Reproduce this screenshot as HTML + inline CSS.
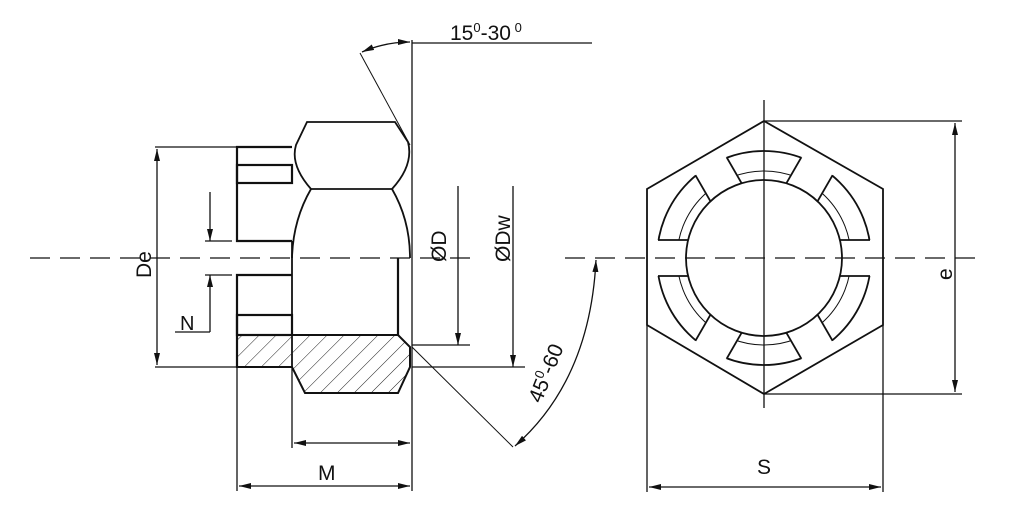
<!DOCTYPE html>
<html><head><meta charset="utf-8"><style>
html,body{margin:0;padding:0;background:#fff;}
svg{display:block;}
text{font-family:"Liberation Sans",sans-serif;fill:#111;}
</style></head><body>
<svg width="1024" height="506" viewBox="0 0 1024 506" xmlns="http://www.w3.org/2000/svg">
<defs>
<marker id="a" viewBox="0 0 12 6" refX="12" refY="3" markerWidth="12" markerHeight="6" orient="auto-start-reverse" markerUnits="userSpaceOnUse"><path d="M0,0 L12,3 L0,6 Z" fill="#111"/></marker>
<pattern id="h" width="12" height="12" patternUnits="userSpaceOnUse" patternTransform="rotate(45)"><line x1="0" y1="0" x2="0" y2="12" stroke="#222" stroke-width="1"/></pattern>
</defs>
<g stroke="#111" fill="none" stroke-width="1.3">
<line x1="30" y1="258" x2="470" y2="258" stroke-dasharray="20,10"/>
<line x1="412" y1="40" x2="412" y2="491"/>
<line x1="412" y1="43" x2="592" y2="43"/>
<line x1="360" y1="53" x2="410" y2="145" stroke-width="1"/>
<path d="M362,52 Q385,42 410,42" marker-start="url(#a)" marker-end="url(#a)"/>
<path d="M307,122 L395,122 L408,142 Q414,165 392,189 L311,189 Q290,165 296,145 Z" stroke-width="1.8"/>
<path d="M311,189 Q293,220 292,258" stroke-width="1.8"/>
<path d="M392,189 Q410,220 410,258" stroke-width="1.8"/>
<path d="M292,147 L237,147 L237,241 L292,241" stroke-width="2.2"/>
<rect x="237" y="165" width="55" height="18" stroke-width="2.2"/>
<line x1="292" y1="241" x2="292" y2="367" stroke-width="1.8"/>
<path d="M292,275 L237,275 L237,367" stroke-width="2.2"/>
<rect x="237" y="315" width="55" height="20" stroke-width="2.2"/>
<line x1="398" y1="258" x2="398" y2="335" stroke-width="2.2"/>
<path d="M237,335 L398,335 L410,347 L410,367 L398,393 L305,393 L292,367 L237,367 Z" fill="url(#h)" stroke-width="2"/>
<line x1="155" y1="147" x2="237" y2="147"/>
<line x1="155" y1="367" x2="237" y2="367"/>
<line x1="157" y1="149" x2="157" y2="365" marker-start="url(#a)" marker-end="url(#a)"/>
<line x1="205" y1="241" x2="232" y2="241"/>
<line x1="205" y1="275" x2="232" y2="275"/>
<line x1="210" y1="192" x2="210" y2="241" marker-end="url(#a)"/>
<line x1="210" y1="332" x2="210" y2="275" marker-end="url(#a)"/>
<line x1="175" y1="332" x2="210" y2="332"/>
<line x1="412" y1="345" x2="470" y2="345"/>
<line x1="458" y1="186" x2="458" y2="345" marker-end="url(#a)"/>
<line x1="412" y1="367" x2="525" y2="367"/>
<line x1="513" y1="186" x2="513" y2="367" marker-end="url(#a)"/>
<line x1="412" y1="347" x2="513" y2="447" stroke-width="1"/>
<path d="M515,446 Q590,380 596,260" marker-start="url(#a)" marker-end="url(#a)"/>
<line x1="292" y1="367" x2="292" y2="448"/>
<line x1="294" y1="443" x2="410" y2="443" marker-start="url(#a)" marker-end="url(#a)"/>
<line x1="237" y1="367" x2="237" y2="491"/>
<line x1="239" y1="486" x2="410" y2="486" marker-start="url(#a)" marker-end="url(#a)"/>
<polygon points="764,121 883,189 883,325 764,394 647,325 647,189" stroke-width="1.8"/>
<circle cx="764" cy="258" r="107" stroke-width="1.8"/>
<circle cx="764" cy="258" r="87" stroke-width="1"/>
<g stroke-width="1.8">
<g transform="rotate(0,764,258)"><rect x="840" y="240" width="34" height="36" fill="#fff" stroke="none"/><line x1="840" y1="240" x2="870" y2="240"/><line x1="840" y1="276" x2="870" y2="276"/></g>
<g transform="rotate(60,764,258)"><rect x="840" y="240" width="34" height="36" fill="#fff" stroke="none"/><line x1="840" y1="240" x2="870" y2="240"/><line x1="840" y1="276" x2="870" y2="276"/></g>
<g transform="rotate(120,764,258)"><rect x="840" y="240" width="34" height="36" fill="#fff" stroke="none"/><line x1="840" y1="240" x2="870" y2="240"/><line x1="840" y1="276" x2="870" y2="276"/></g>
<g transform="rotate(180,764,258)"><rect x="840" y="240" width="34" height="36" fill="#fff" stroke="none"/><line x1="840" y1="240" x2="870" y2="240"/><line x1="840" y1="276" x2="870" y2="276"/></g>
<g transform="rotate(240,764,258)"><rect x="840" y="240" width="34" height="36" fill="#fff" stroke="none"/><line x1="840" y1="240" x2="870" y2="240"/><line x1="840" y1="276" x2="870" y2="276"/></g>
<g transform="rotate(300,764,258)"><rect x="840" y="240" width="34" height="36" fill="#fff" stroke="none"/><line x1="840" y1="240" x2="870" y2="240"/><line x1="840" y1="276" x2="870" y2="276"/></g>
</g>
<circle cx="764" cy="258" r="78" stroke-width="1.8"/>
<line x1="764" y1="100" x2="764" y2="408"/>
<line x1="565" y1="258" x2="985" y2="258" stroke-dasharray="20,10"/>
<line x1="764" y1="121" x2="962" y2="121"/>
<line x1="764" y1="394" x2="962" y2="394"/>
<line x1="955" y1="123" x2="955" y2="392" marker-start="url(#a)" marker-end="url(#a)"/>
<line x1="647" y1="325" x2="647" y2="492"/>
<line x1="883" y1="325" x2="883" y2="492"/>
<line x1="649" y1="487" x2="881" y2="487" marker-start="url(#a)" marker-end="url(#a)"/>
</g>
<text x="450" y="40" font-size="21">15<tspan font-size="13" dy="-8">0</tspan><tspan dy="8">-30</tspan><tspan font-size="13" dy="-8"> 0</tspan></text>
<text x="0" y="0" font-size="21" transform="translate(151,278) rotate(-90)">De</text>
<text x="180" y="330" font-size="20">N</text>
<text x="0" y="0" font-size="21" transform="translate(446,262) rotate(-90)">ØD</text>
<text x="0" y="0" font-size="21" transform="translate(510,262) rotate(-90)">ØDw</text>
<text x="0" y="0" font-size="21" transform="translate(541,404) rotate(-68)">45<tspan font-size="13" dy="-8">0</tspan><tspan dy="8">-60</tspan></text>
<text x="318" y="480" font-size="21">M</text>
<text x="0" y="0" font-size="21" transform="translate(952,280) rotate(-90)">e</text>
<text x="757" y="474" font-size="21">S</text>
</svg>
</body></html>
